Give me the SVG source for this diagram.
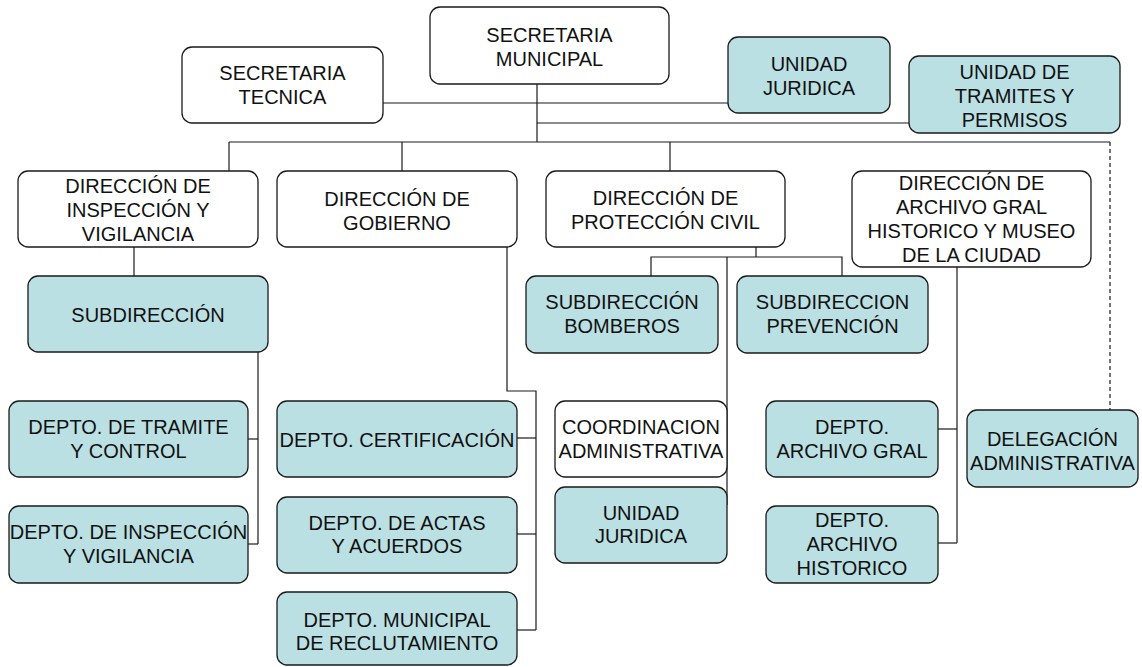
<svg xmlns="http://www.w3.org/2000/svg" width="1142" height="667" viewBox="0 0 1142 667">
<style>
.b{stroke:#1a1a1a;stroke-width:1.3}
.w{fill:#ffffff}
.t{fill:#bbe0e3}
text{font-family:"Liberation Sans",Arial,sans-serif;font-size:20px;fill:#111;text-anchor:middle}
.c path{fill:none;stroke:#1a1a1a;stroke-width:1.2}
.c .d{stroke-dasharray:4,3}
</style>
<rect width="1142" height="667" fill="#ffffff"/>
<g class="c" id="connectors">
<path d="M537,84 V142"/>
<path d="M383,103 H728"/>
<path d="M537,123 H909"/>
<path d="M229,142 H1110"/>
<path d="M229,142 V171"/>
<path d="M402,142 V171"/>
<path d="M670,142 V171"/>
<path class="d" d="M1110,142 V410"/>
<path d="M134,247 V276"/>
<path d="M258,352 V544"/>
<path d="M248,439 H258"/>
<path d="M248,544 H258"/>
<path d="M507,247 V391 H536 V630"/>
<path d="M517,438 H536"/>
<path d="M517,534 H536"/>
<path d="M517,630 H536"/>
<path d="M756,247 V257"/>
<path d="M651,276 V257 H842 V276"/>
<path d="M727,257 V505"/>
<path d="M957,267 V543"/>
<path d="M938,429 H957"/>
<path d="M938,543 H957"/>
</g>
<g id="n-municipal"><rect class="b w" x="430" y="7" width="239" height="77" rx="10"/><text x="549.5" y="42">SECRETARIA</text><text x="549.5" y="66">MUNICIPAL</text></g>
<g id="n-tecnica"><rect class="b w" x="182" y="47" width="201" height="76" rx="10"/><text x="282.5" y="80">SECRETARIA</text><text x="282.5" y="104">TECNICA</text></g>
<g id="n-ujuridica1"><rect class="b t" x="728" y="37" width="162" height="76" rx="10"/><text x="809" y="71">UNIDAD</text><text x="809" y="95">JURIDICA</text></g>
<g id="n-tramites"><rect class="b t" x="909" y="56" width="211" height="77" rx="10"/><text x="1014.5" y="79">UNIDAD DE</text><text x="1014.5" y="103">TRAMITES Y</text><text x="1014.5" y="127">PERMISOS</text></g>
<g id="n-dir-insp"><rect class="b w" x="18" y="171" width="240" height="76" rx="10"/><text x="138" y="193">DIRECCIÓN DE</text><text x="138" y="217">INSPECCIÓN Y</text><text x="138" y="241">VIGILANCIA</text></g>
<g id="n-dir-gob"><rect class="b w" x="277" y="171" width="240" height="76" rx="10"/><text x="397" y="206">DIRECCIÓN DE</text><text x="397" y="230">GOBIERNO</text></g>
<g id="n-dir-prot"><rect class="b w" x="546" y="171" width="239" height="76" rx="10"/><text x="665.5" y="205">DIRECCIÓN DE</text><text x="665.5" y="229">PROTECCIÓN CIVIL</text></g>
<g id="n-dir-arch"><rect class="b w" x="852" y="171" width="239" height="96" rx="10"/><text x="971.5" y="190">DIRECCIÓN DE</text><text x="971.5" y="214">ARCHIVO GRAL</text><text x="971.5" y="238">HISTORICO Y MUSEO</text><text x="971.5" y="262">DE LA CIUDAD</text></g>
<g id="n-subdir"><rect class="b t" x="28" y="276" width="240" height="76" rx="10"/><text x="148" y="322">SUBDIRECCIÓN</text></g>
<g id="n-bomberos"><rect class="b t" x="526" y="276" width="192" height="77" rx="10"/><text x="622" y="309">SUBDIRECCIÓN</text><text x="622" y="333">BOMBEROS</text></g>
<g id="n-prevencion"><rect class="b t" x="737" y="276" width="191" height="77" rx="10"/><text x="832.5" y="309">SUBDIRECCION</text><text x="832.5" y="333">PREVENCIÓN</text></g>
<g id="n-tramite-control"><rect class="b t" x="9" y="401" width="239" height="76" rx="10"/><text x="128.5" y="434">DEPTO. DE TRAMITE</text><text x="128.5" y="458">Y CONTROL</text></g>
<g id="n-insp-vig"><rect class="b t" x="9" y="506" width="239" height="77" rx="10"/><text x="128.5" y="539">DEPTO. DE INSPECCIÓN</text><text x="128.5" y="563">Y VIGILANCIA</text></g>
<g id="n-certificacion"><rect class="b t" x="277" y="401" width="240" height="76" rx="10"/><text x="397" y="447">DEPTO. CERTIFICACIÓN</text></g>
<g id="n-actas"><rect class="b t" x="277" y="497" width="240" height="76" rx="10"/><text x="397" y="530">DEPTO. DE ACTAS</text><text x="397" y="553">Y ACUERDOS</text></g>
<g id="n-reclutamiento"><rect class="b t" x="277" y="592" width="240" height="73" rx="10"/><text x="397" y="627">DEPTO. MUNICIPAL</text><text x="397" y="650">DE RECLUTAMIENTO</text></g>
<g id="n-coordinacion"><rect class="b w" x="555" y="401" width="172" height="76" rx="10"/><text x="641" y="434">COORDINACION</text><text x="641" y="458">ADMINISTRATIVA</text></g>
<g id="n-ujuridica2"><rect class="b t" x="555" y="487" width="172" height="76" rx="10"/><text x="641" y="520">UNIDAD</text><text x="641" y="543">JURIDICA</text></g>
<g id="n-archivo-gral"><rect class="b t" x="766" y="401" width="172" height="76" rx="10"/><text x="852" y="434">DEPTO.</text><text x="852" y="458">ARCHIVO GRAL</text></g>
<g id="n-archivo-hist"><rect class="b t" x="766" y="506" width="172" height="77" rx="10"/><text x="852" y="527">DEPTO.</text><text x="852" y="551">ARCHIVO</text><text x="852" y="575">HISTORICO</text></g>
<g id="n-delegacion"><rect class="b t" x="967" y="410" width="171" height="77" rx="10"/><text x="1052.5" y="446">DELEGACIÓN</text><text x="1052.5" y="470">ADMINISTRATIVA</text></g>
</svg>
